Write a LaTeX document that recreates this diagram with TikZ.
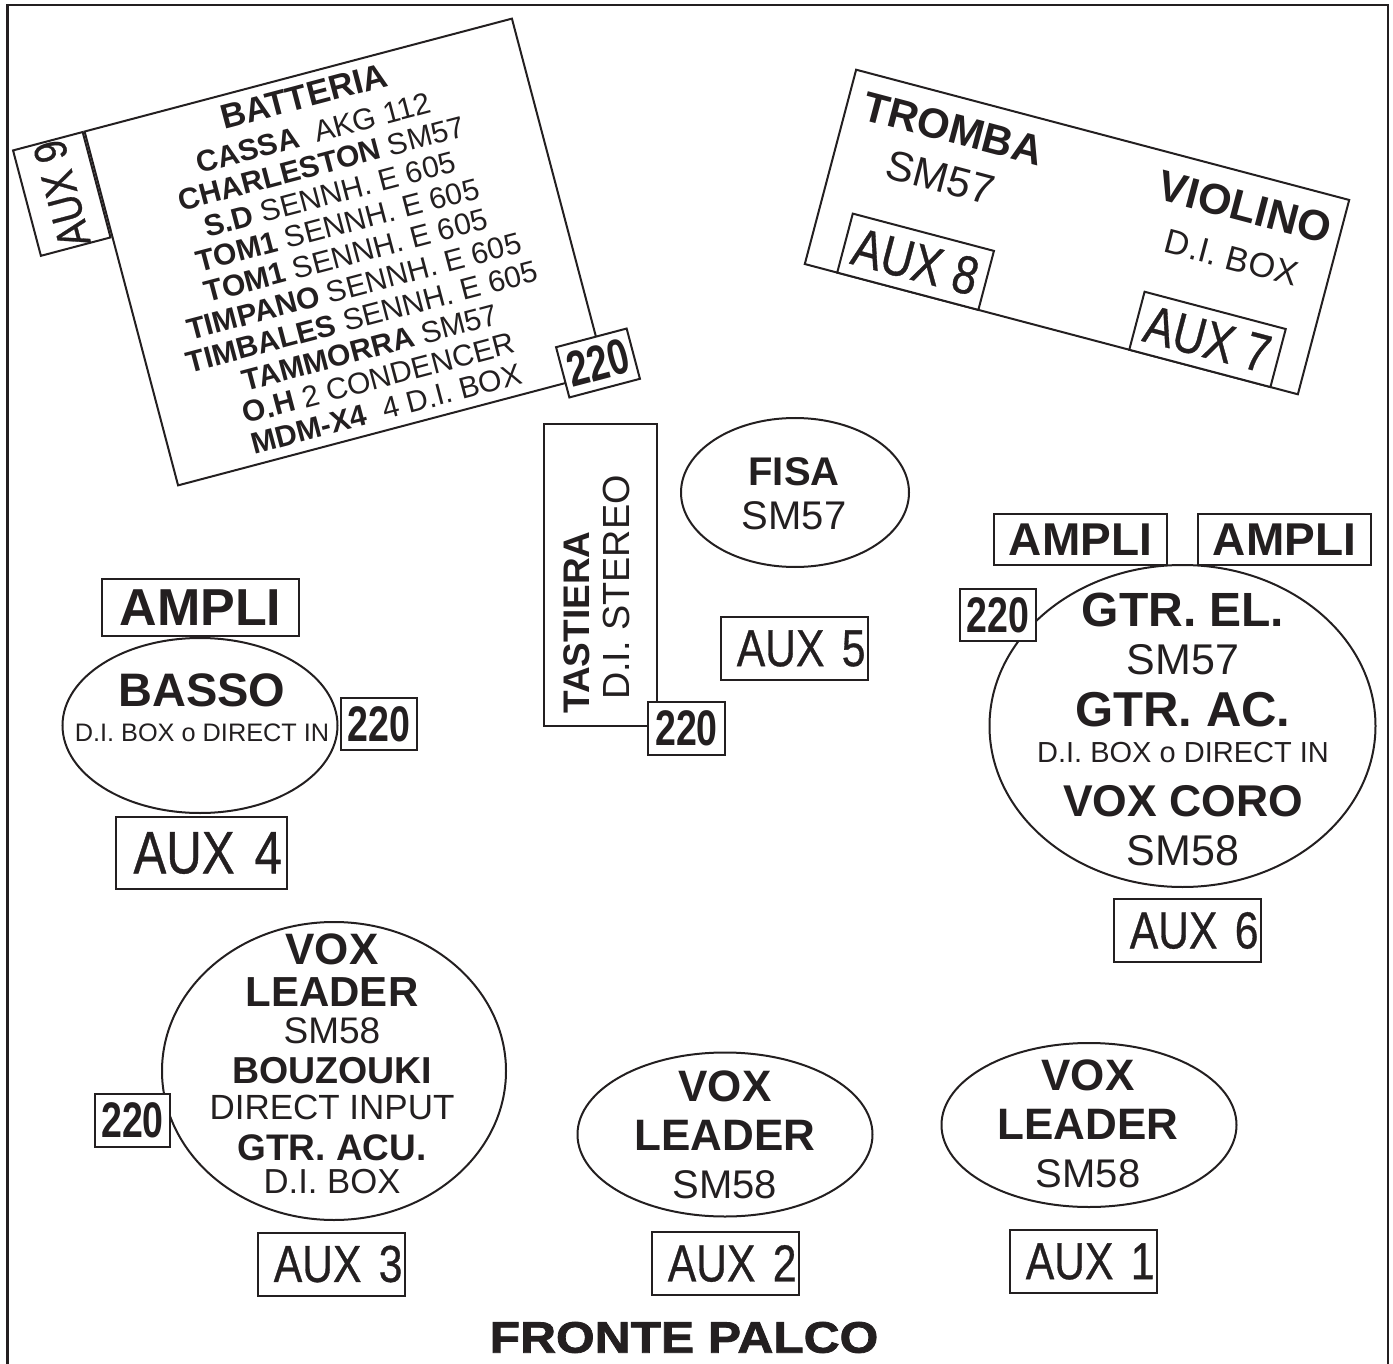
\documentclass[tikz,border=0pt]{standalone}
\usepackage{fontspec}
\setmainfont{Liberation Sans}
\newfontfamily\narrowfont[FakeStretch=0.82,FakeBold=0.6]{Liberation Sans}
\newfontfamily\narrowboldfont[FakeStretch=0.75]{Liberation Sans Bold}
\newfontfamily\frontfont[FakeStretch=1.13,FakeBold=1.8]{Liberation Sans Bold}
\usetikzlibrary{shapes.geometric,calc}
\definecolor{ink}{RGB}{35,31,32}
\newcommand{\fsz}[1]{\fontsize{#1}{#1}\selectfont}

\begin{document}
\begin{tikzpicture}[x=1pt, y=1pt, line width=2pt, color=ink,
    auxbox/.style={draw, fill=white, inner sep=0pt, minimum width=147, minimum height=63, font=\narrowfont\fsz{52}},
    floorbox/.style={auxbox, text width=142, align=right},
    plugbox/.style={draw, fill=white, inner sep=0pt, minimum width=76, minimum height=52, font=\narrowboldfont\fsz{50}},
    amplibox/.style={draw, fill=white, inner sep=0pt, minimum width=173, minimum height=51, font=\bfseries\fsz{46}},
    spot/.style={draw, ellipse, inner sep=0pt},
    txt/.style={align=center, inner sep=0pt}]
    \useasboundingbox (0,0) rectangle (1393,-1364);
    \draw[line width=2.8pt] (7.5,-1364) -- (7.5,-5) -- (1388,-5) -- (1388,-1364);

    % batteria
    \node[draw, rotate=14.8, minimum width=442, minimum height=366] (drum) at (345,-252) {};
    \node[txt, rotate=14.8, font=\fontsize{30}{31.7}\selectfont] (drumtxt) at (drum.center) {{\bfseries\fsz{34.4}BATTERIA}\\[4.8pt]
        \textbf{CASSA}\ \ AKG 112\\
        \textbf{CHARLESTON} SM57\\
        \textbf{S.D} SENNH. E 605\\
        \textbf{TOM1} SENNH. E 605\\
        \textbf{TOM1} SENNH. E 605\\
        \textbf{TIMPANO} SENNH. E 605\\
        \textbf{TIMBALES} SENNH. E 605\\
        \textbf{TAMMORRA} SM57\\
        \textbf{O.H} 2 CONDENCER\\
        \textbf{MDM-X4}\ \ 4 D.I. BOX};
    \node[auxbox, rotate=104.8, anchor=south east, minimum width=102, minimum height=72, font=\narrowfont\fsz{46}] (aux9) at (drum.north west) {AUX 9};
    \node[plugbox, rotate=14.8, minimum width=73] (drum220) at (598,-363) {220};

    % fiati e archi
    \node[draw, rotate=-14.8, minimum width=510, minimum height=201] (tromba) at (1077,-232) {};
    \node[txt, rotate=-14.8, font=\fontsize{42}{50.5}\selectfont] (trombatxt) at (946.75,-153) {\textbf{TROMBA}\\SM57};
    \node[txt, rotate=-14.8, font=\fontsize{34.4}{49.5}\selectfont] (violinotxt) at (1238.7,-231) {{\bfseries\fsz{43}VIOLINO}\\D.I. BOX};
    \node[auxbox, rotate=-14.8, anchor=south, minimum width=146, minimum height=61, font=\narrowfont\fsz{54}] (aux8) at ($(tromba.south west)!0.21!(tromba.south east)$) {AUX 8};
    \node[auxbox, rotate=-14.8, anchor=south, minimum width=146, minimum height=60, font=\narrowfont\fsz{54}] (aux7) at ($(tromba.south west)!0.80!(tromba.south east)$) {AUX 7};

    % tastiera e fisa
    \node[draw, minimum width=113, minimum height=302] (tastiera) at (600.5,-575) {};
    \node[rotate=90, inner sep=0pt, font=\bfseries\fsz{37}] (tastieratxt) at (576.5,-622.5) {TASTIERA};
    \node[rotate=90, inner sep=0pt, font=\fsz{37.8}] (tastieradi) at (616.5,-587.5) {D.I. STEREO};
    \node[plugbox, minimum width=77, minimum height=53] (tastiera220) at (686.5,-728.5) {220};
    \node[spot, minimum width=228, minimum height=149] (fisa) at (795,-492.5) {};
    \node[txt, font=\fontsize{40}{44}\selectfont] (fisatxt) at (794,-494) {\textbf{FISA}\\SM57};
    \node[floorbox] (aux5) at (794.5,-648.5) {AUX 5};

    % basso
    \node[amplibox, minimum width=197, minimum height=57, font=\bfseries\fsz{52}] (bassoampli) at (200.5,-607.5) {AMPLI};
    \node[spot, minimum width=275, minimum height=175] (basso) at (200,-725.5) {};
    \node[txt, font=\fontsize{25.3}{35}\selectfont] (bassotxt) at (202,-707.5) {{\bfseries\fsz{47}BASSO}\\D.I. BOX o DIRECT IN};
    \node[plugbox] (basso220) at (379,-724) {220};
    \node[floorbox, minimum width=171, minimum height=72, text width=161, font=\narrowfont\fsz{60}] (aux4) at (201.5,-853) {AUX 4};

    % chitarre
    \node[spot, minimum width=386, minimum height=322] (gtr) at (1182.5,-726) {};
    \node[amplibox] (gtrampli1) at (1080.5,-539.5) {AMPLI};
    \node[amplibox] (gtrampli2) at (1284.5,-539.5) {AMPLI};
    \node[plugbox] (gtr220) at (998,-615) {220};
    \node[txt, font=\fontsize{43}{48.5}\selectfont] (gtrtxt) at (1183,-729.5) {{\bfseries\fsz{48}GTR. EL.}\\SM57\\[3pt]
        {\bfseries\fsz{49}GTR. AC.}\\[-12pt]
        {\fsz{29}D.I. BOX o DIRECT IN}\\[5pt]
        {\bfseries\fsz{44.5}VOX CORO}\\[1pt]
        SM58};
    \node[floorbox] (aux6) at (1187.5,-930.5) {AUX 6};

    % voci
    \node[spot, minimum width=344, minimum height=298] (lead1) at (334,-1071) {};
    \node[plugbox, minimum width=75, minimum height=53] (lead1220) at (132.5,-1120.5) {220};
    \node[txt, font=\fontsize{37}{38}\selectfont] (lead1txt) at (332,-1064) {{\bfseries\fsz{44}VOX}\\[4.5pt]
        {\bfseries\fsz{42}LEADER}\\[-1.5pt]
        SM58\\[2.5pt]
        {\bfseries\fsz{37.5}BOUZOUKI}\\[-2pt]
        {\fsz{35}DIRECT INPUT}\\[2.5pt]
        \textbf{GTR. ACU.}\\[-4.5pt]
        {\fsz{34.7}D.I. BOX}};
    \node[floorbox] (aux3) at (331.5,-1264) {AUX 3};

    \node[spot, minimum width=295, minimum height=164] (lead2) at (725,-1134.5) {};
    \node[txt, font=\fontsize{40}{48.3}\selectfont] (lead2txt) at (725,-1135) {{\bfseries\fsz{44}VOX}\\{\bfseries\fsz{44}LEADER}\\SM58};
    \node[floorbox] (aux2) at (725.5,-1263.5) {AUX 2};

    \node[spot, minimum width=295, minimum height=164] (lead3) at (1089,-1125) {};
    \node[txt, font=\fontsize{40}{48.3}\selectfont] (lead3txt) at (1088,-1124) {{\bfseries\fsz{44}VOX}\\{\bfseries\fsz{44}LEADER}\\SM58};
    \node[floorbox] (aux1) at (1083.5,-1261.5) {AUX 1};

    \node[inner sep=0pt, font=\frontfont\fsz{44}] (fronte) at (684,-1337.5) {FRONTE PALCO};
\end{tikzpicture}
\end{document}
